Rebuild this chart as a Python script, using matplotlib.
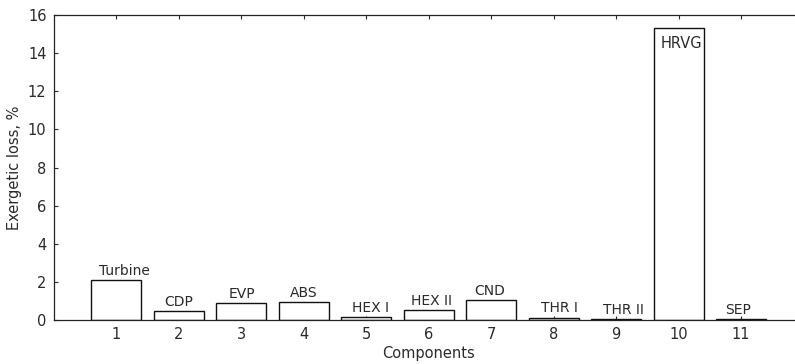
import matplotlib
matplotlib.use("Agg")
import matplotlib.pyplot as plt

positions = [1, 2, 3, 4, 5, 6, 7, 8, 9, 10, 11]
values = [2.13, 0.49, 0.89, 0.95, 0.15, 0.54, 1.08, 0.14, 0.08, 15.32, 0.08]
labels = ["Turbine", "CDP", "EVP", "ABS", "HEX I", "HEX II", "CND", "THR I", "THR II", "HRVG", "SEP"]
yticks = [0, 2, 4, 6, 8, 10, 12, 14, 16]

plt.rcParams['font.family'] = ['DejaVu Sans']
fig = plt.figure(figsize=(7.95, 3.64), dpi=100)
ax = fig.add_axes([53.5 / 795, 1 - 320.3 / 364, 750 / 795, 305.3 / 364])
ax.set_axisbelow(True)

ax.bar(positions, values, width=0.8, color='white', edgecolor='#111111', linewidth=1.0, zorder=1)

label_dx = [0.13, 0, 0.02, 0, 0.07, 0.05, -0.02, 0.1, 0.12, 0.05, -0.05]
for x, v, t, dx in zip(positions, values, labels, label_dx):
    if v > 10:
        ax.text(x + dx, v - 0.42, t, ha='center', va='top', fontsize=10.5, color='#2a2a2a')
    else:
        ax.text(x + dx, v + 0.27, t, ha='center', va='baseline', fontsize=10, color='#2a2a2a')

ax.set_xlim(0, 12)
ax.set_ylim(0, 16)
ax.set_xticks(positions)
ax.set_xticklabels([str(p) for p in positions])
ax.set_yticks(yticks)
ax.tick_params(direction='in', length=3, width=0.8, top=True, right=True,
               labelsize=10.5, colors='#2a2a2a', pad=5)
for s in ax.spines.values():
    s.set_linewidth(0.9)
    s.set_color('#222222')

ax.set_xlabel("Components", fontsize=10.5, color='#2a2a2a', labelpad=3)
ax.set_ylabel("Exergetic loss, %", fontsize=10.5, color='#2a2a2a', labelpad=4)

fig.savefig("out.png", dpi=100)
